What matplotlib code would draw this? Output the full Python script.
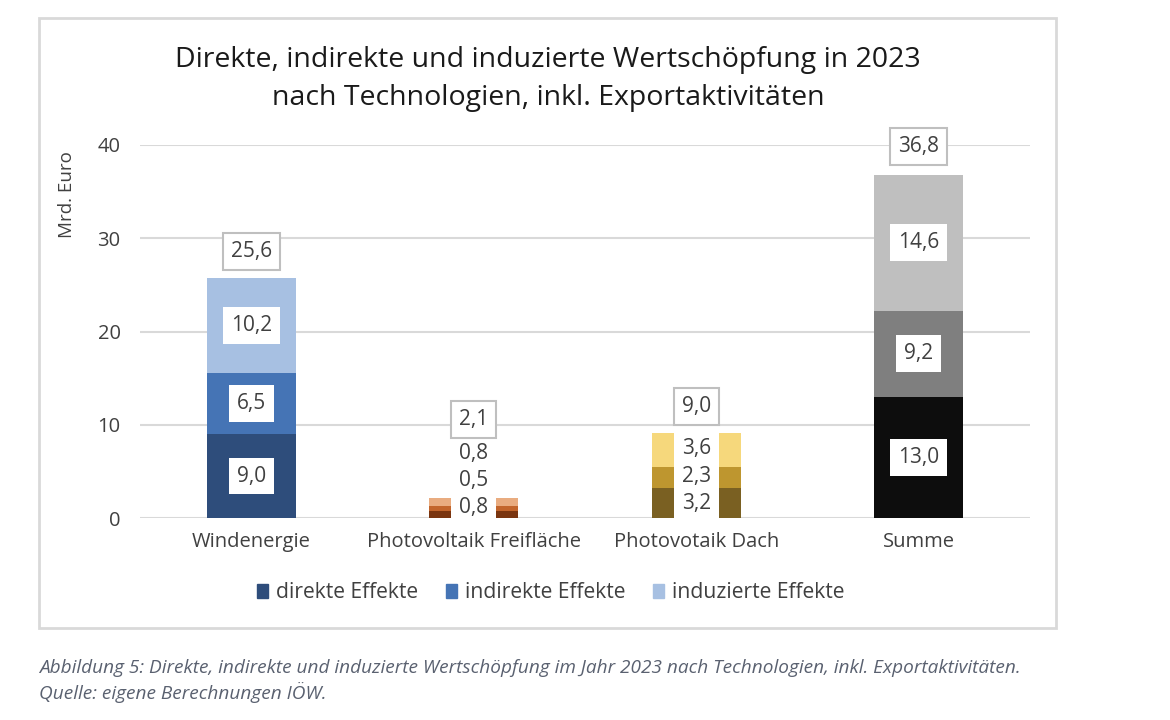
import numpy as np
import matplotlib
matplotlib.use("Agg")
import matplotlib.pyplot as plt
from matplotlib.patches import Rectangle, Patch

plt.rcParams['font.family'] = ['Open Sans', 'DejaVu Sans']

kategorien = ["Windenergie", "Photovoltaik Freifläche", "Photovotaik Dach", "Summe"]
direkt = [9.0, 0.8, 3.2, 13.0]
indirekt = [6.5, 0.5, 2.3, 9.2]
induziert = [10.2, 0.8, 3.6, 14.6]
summen = [25.6, 2.1, 9.0, 36.8]
serien = ["direkte Effekte", "indirekte Effekte", "induzierte Effekte"]

farben = [
    ["#2E4D7B", "#4574B5", "#A7C0E2"],
    ["#7A3510", "#C2652C", "#E9AC80"],
    ["#7A6022", "#BE962F", "#F6D87C"],
    ["#0D0D0D", "#7F7F7F", "#BFBFBF"],
]

titel = "Direkte, indirekte und induzierte Wertschöpfung in 2023\nnach Technologien, inkl. Exportaktivitäten"
unterschrift = ("Abbildung 5: Direkte, indirekte und induzierte Wertschöpfung im Jahr 2023 nach Technologien, inkl. Exportaktivitäten.\n"
                "Quelle: eigene Berechnungen IÖW.")

def komma(v):
    return f"{v:.1f}".replace(".", ",")

fig = plt.figure(figsize=(11.7, 7.2), dpi=100)
ax = fig.add_axes([140/1170, 1-518/720, 890/1170, 373/720])

x = np.arange(len(kategorien))
breite = 0.4
werte = np.array([direkt, indirekt, induziert])
text_farbe = "#404040"

def beschriftung(xp, yp, s, rand):
    # weisser Kasten unter dem Text, Text selbst darueber
    ax.text(xp, yp, s, ha="center", va="center", fontsize=15, color="none",
            zorder=3, clip_on=False,
            bbox=dict(boxstyle="square,pad=0.38", fc="white", ec=rand, lw=1.5))
    ax.text(xp, yp, s, ha="center", va="center", fontsize=15, color=text_farbe,
            zorder=5, clip_on=False)

for i in range(len(kategorien)):
    unten = 0
    letzte_y = -np.inf
    for j in range(3):
        h = werte[j, i]
        ax.bar(x[i], h, breite, bottom=unten, color=farben[i][j], zorder=2)
        mitte = unten + h / 2
        y_lab = max(mitte, 1.1, letzte_y + 2.9)
        beschriftung(x[i], y_lab, komma(h), "none")
        letzte_y = y_lab
        unten += h
    y_sum = max(summen[i], letzte_y + 0.7) + 3.0
    beschriftung(x[i], y_sum, komma(summen[i]), "#BFBFBF")

ax.set_xlim(-0.5, 3.5)
ax.set_ylim(0, 40)
ax.set_yticks([0, 10, 20, 30, 40])
ax.set_xticks(x)
ax.set_xticklabels(kategorien)
ax.tick_params(length=0, labelsize=14.5, labelcolor=text_farbe, pad=14)
ax.tick_params(axis="x", pad=10)
ax.grid(axis="y", color="#D9D9D9", lw=1.5, zorder=0)
ax.set_axisbelow(True)
for s in ax.spines.values():
    s.set_visible(False)

fig.text(67/1170, 1-195/720, "Mrd. Euro", rotation=90, ha="center", va="center",
         fontsize=13.5, color=text_farbe)

fig.text(548/1170, 1-79/720, titel, ha="center", va="center", fontsize=20.5,
         color="#1A1A1A", linespacing=1.5)

handles = [Patch(color=c) for c in farben[0]]
fig.legend(handles, serien, loc="center", bbox_to_anchor=(551/1170, 1-593/720),
           ncol=3, frameon=False, fontsize=15.2, handlelength=0.5, handleheight=0.6,
           handletextpad=0.4, columnspacing=1.3, labelcolor=text_farbe)

fig.patches.append(Rectangle((39/1170, 1-628/720), (1056-39)/1170, (628-18)/720,
                             transform=fig.transFigure, fill=False, ec="#D9D9D9", lw=2))

fig.text(39/1170, 1-681/720, unterschrift, ha="left", va="center", fontsize=13.7,
         style="italic", color="#5A6170", linespacing=1.35)

fig.savefig("out.png", dpi=100)
